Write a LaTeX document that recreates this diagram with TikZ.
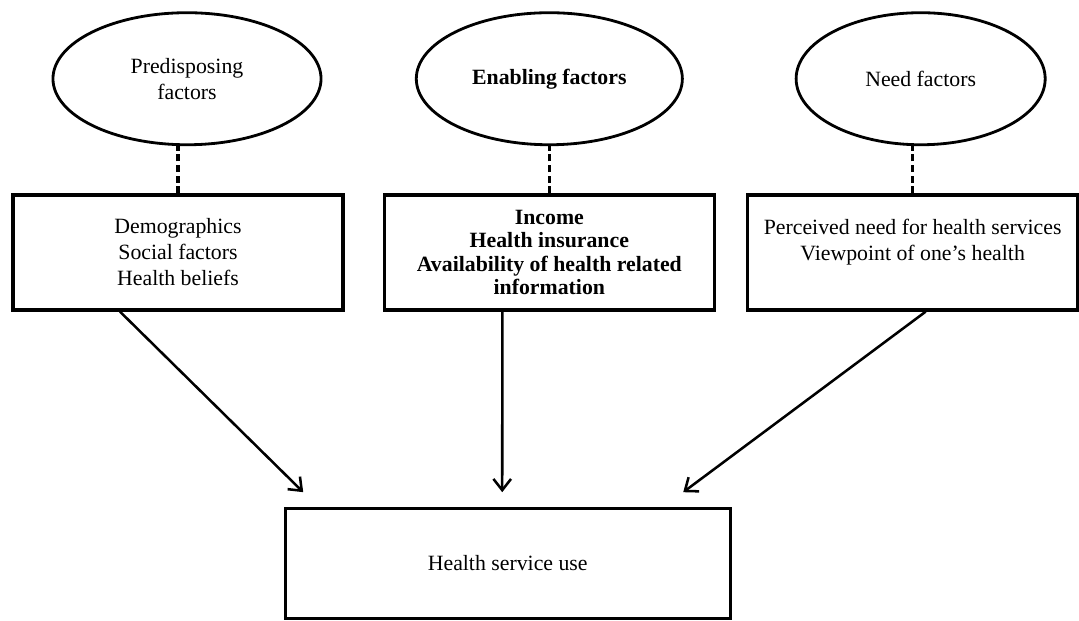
\documentclass[tikz,border=0pt]{standalone}
\usepackage{fontspec}
\setmainfont{Liberation Serif}
\usepackage{tikz}
\usetikzlibrary{arrows.meta,positioning,shapes.geometric,calc}

\begin{document}
\begin{tikzpicture}[
  x=0.025cm, y=-0.025cm,
  every node/.style={font=\fontsize{15.5}{18.5}\selectfont},
  factor/.style={draw, ellipse, line width=2pt, minimum height=3.3cm, inner sep=0pt, align=center},
  block/.style={draw, rectangle, line width=2.3pt, minimum width=8.25cm, minimum height=2.875cm, align=center},
  link/.style={line width=2.3pt, dash pattern=on 5pt off 2.6pt},
  arrow/.style={-{Straight Barb[length=2.8mm,width=4.4mm]}, line width=1.8pt}
]
\useasboundingbox (0,0) rectangle (1079,620);

\node[block] (predbox) at (178,252.5) {Demographics\\Social factors\\Health beliefs};
\node[block, right=0.95cm of predbox, font=\bfseries\fontsize{15.5}{16.6}\selectfont] (enabbox) {Income\\Health insurance\\Availability of health related\\information};
\node[block, right=0.75cm of enabbox, text depth=0.65cm] (needbox) {Perceived need for health services\\Viewpoint of one’s health};

\node[factor, minimum width=6.7cm, above=1.18cm of predbox, xshift=0.225cm] (predell) {Predisposing\\factors};
\node[factor, minimum width=6.65cm, above=1.18cm of enabbox, font=\bfseries\fontsize{15.5}{18.5}\selectfont] (enabell) {Enabling factors};
\node[factor, minimum width=6.225cm, above=1.18cm of needbox, xshift=0.2cm] (needell) {Need factors};

\node[block, minimum width=11.125cm, minimum height=2.75cm, below=4.875cm of enabbox, xshift=-1.04cm] (usebox) {Health service use};

\draw[link] (predbox.north) -- (predbox.north |- predell.south);
\draw[link] (enabbox.north) -- (enabbox.north |- enabell.south);
\draw[link] (needbox.north) -- (needbox.north |- needell.south);

\coordinate (predout) at ($(predbox.south)+(-58,0)$);
\coordinate (enabout) at ($(enabbox.south)+(-47,0)$);
\coordinate (needout) at ($(needbox.south)+(13,0)$);
\coordinate (predin) at ($(usebox.north)+(-204.5,-14.5)$);
\coordinate (enabin) at ($(usebox.north)+(-5.5,-14.5)$);
\coordinate (needin) at ($(usebox.north)+(175.5,-14.5)$);

\draw[arrow] (predout) -- (predin);
\draw[arrow] (enabout) -- (enabin);
\draw[arrow] (needout) -- (needin);
\end{tikzpicture}
\end{document}
